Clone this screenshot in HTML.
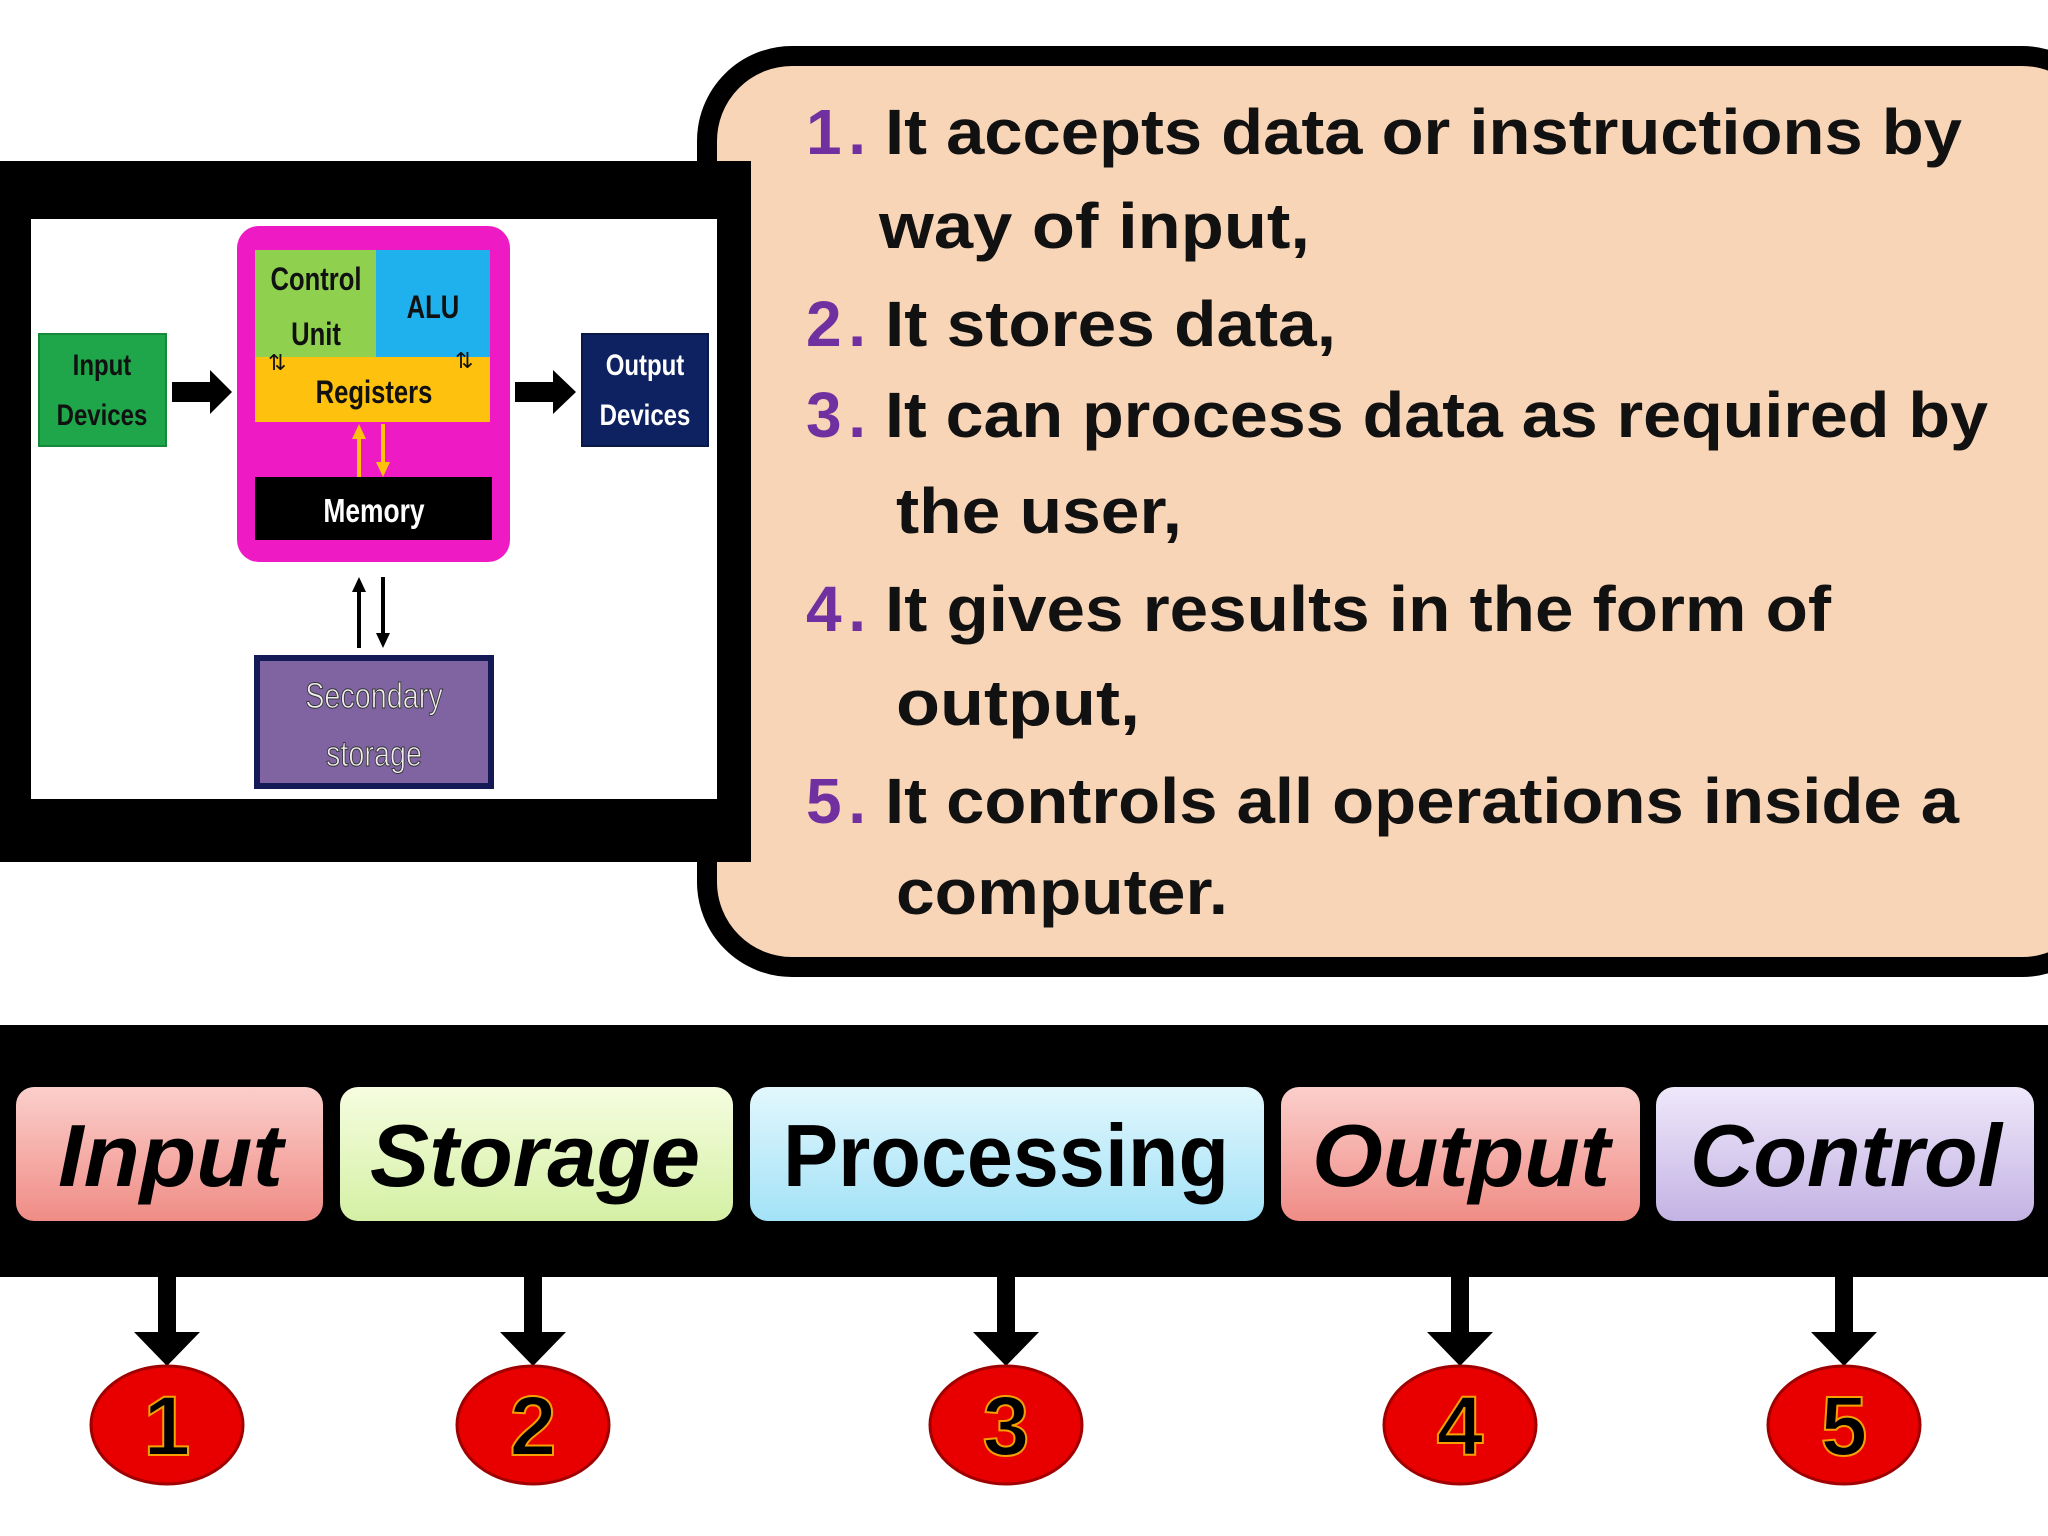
<!DOCTYPE html>
<html><head><meta charset="utf-8"><style>
html,body{margin:0;padding:0;background:#fff;}
svg{display:block;}
</style></head><body>
<svg width="2048" height="1536" viewBox="0 0 2048 1536" xmlns="http://www.w3.org/2000/svg" font-family="'Liberation Sans', sans-serif">
<defs>
<linearGradient id="gp" x1="0" y1="0" x2="0" y2="1"><stop offset="0" stop-color="#fbcfcb"/><stop offset="1" stop-color="#f08c86"/></linearGradient>
<linearGradient id="gg" x1="0" y1="0" x2="0" y2="1"><stop offset="0" stop-color="#f6fde0"/><stop offset="1" stop-color="#d4f0a4"/></linearGradient>
<linearGradient id="gb" x1="0" y1="0" x2="0" y2="1"><stop offset="0" stop-color="#e2f7fd"/><stop offset="1" stop-color="#a3e2f7"/></linearGradient>
<linearGradient id="gv" x1="0" y1="0" x2="0" y2="1"><stop offset="0" stop-color="#efe8fa"/><stop offset="1" stop-color="#c3b3e4"/></linearGradient>
</defs>
<rect x="707" y="56" width="1400" height="911" rx="85" fill="#f9d5b8" stroke="#000" stroke-width="20"/>
<rect x="0" y="161" width="751" height="701" fill="#000"/>
<rect x="31" y="219" width="686" height="580" fill="#fff"/>
<!-- diagram -->
<rect x="39" y="334" width="127" height="112" fill="#1fa64a" stroke="#148a38" stroke-width="2"/>
<g transform="translate(102,0) scale(0.8,1) translate(-102,0)" font-weight="bold" fill="#111">
<text x="102" y="375" font-size="30" text-anchor="middle">Input</text>
<text x="102" y="425" font-size="30" text-anchor="middle">Devices</text></g>
<polygon points="172,382 210,382 210,370 232,392 210,414 210,402 172,402" fill="#000"/>
<rect x="237" y="226" width="273" height="336" rx="22" fill="#ee1bc4"/>
<rect x="255" y="250" width="121" height="107" fill="#8fd14f"/>
<rect x="376" y="250" width="114" height="107" fill="#1fb1ee"/>
<rect x="255" y="357" width="235" height="65" fill="#fec10d"/>
<rect x="255" y="477" width="237" height="63" fill="#000"/>
<g transform="translate(316,0) scale(0.8,1) translate(-316,0)"><text x="316" y="290" font-size="32" text-anchor="middle" fill="#111" font-weight="bold">Control</text>
<text x="316" y="345" font-size="32" text-anchor="middle" fill="#111" font-weight="bold">Unit</text></g>
<text x="433" y="318" font-size="32" text-anchor="middle" fill="#111" font-weight="bold" transform="translate(433,0) scale(0.8,1) translate(-433,0)">ALU</text>
<text x="374" y="403" font-size="32" text-anchor="middle" fill="#111" font-weight="bold" transform="translate(374,0) scale(0.8,1) translate(-374,0)">Registers</text>
<text x="374" y="522" font-size="33" text-anchor="middle" fill="#fff" font-weight="bold" transform="translate(374,0) scale(0.8,1) translate(-374,0)">Memory</text>
<text x="268" y="370" font-size="22" fill="#111">⇅</text>
<text x="455" y="368" font-size="22" fill="#111">⇅</text>
<g stroke="#fec10d" stroke-width="4" fill="#fec10d">
<line x1="359" y1="477" x2="359" y2="437"/><polygon points="352,439 366,439 359,424" stroke="none"/>
<line x1="383" y1="424" x2="383" y2="464"/><polygon points="376,462 390,462 383,477" stroke="none"/>
</g>
<polygon points="515,382 553,382 553,370 576,392 553,414 553,402 515,402" fill="#000"/>
<rect x="582" y="334" width="126" height="112" fill="#0e2160" stroke="#0a1848" stroke-width="2"/>
<g transform="translate(645,0) scale(0.8,1) translate(-645,0)" font-weight="bold" fill="#fff">
<text x="645" y="375" font-size="30" text-anchor="middle">Output</text>
<text x="645" y="425" font-size="30" text-anchor="middle">Devices</text></g>
<g stroke="#000" stroke-width="4">
<line x1="359" y1="648" x2="359" y2="590"/><line x1="383" y1="577" x2="383" y2="635"/>
</g>
<polygon points="352,592 366,592 359,577" fill="#000"/>
<polygon points="376,633 390,633 383,648" fill="#000"/>
<rect x="257" y="658" width="234" height="128" fill="#8064a2" stroke="#141a55" stroke-width="6"/>
<g transform="translate(374,0) scale(0.8,1) translate(-374,0)" fill="#eee" stroke="#333" stroke-width="1">
<text x="374" y="708" font-size="36" text-anchor="middle">Secondary</text>
<text x="374" y="766" font-size="36" text-anchor="middle">storage</text></g>
<!-- text list -->
<g font-size="64" font-weight="bold" fill="#111">
<text x="806" y="154" fill="#7030a0" textLength="60">1.</text>
<text x="885" y="154" textLength="1077" lengthAdjust="spacingAndGlyphs">It accepts data or instructions by</text>
<text x="879" y="248" textLength="431" lengthAdjust="spacingAndGlyphs">way of input,</text>
<text x="806" y="346" fill="#7030a0" textLength="60">2.</text>
<text x="885" y="346" textLength="451" lengthAdjust="spacingAndGlyphs">It stores data,</text>
<text x="806" y="437" fill="#7030a0" textLength="60">3.</text>
<text x="885" y="437" textLength="1103" lengthAdjust="spacingAndGlyphs">It can process data as required by</text>
<text x="896" y="533" textLength="286" lengthAdjust="spacingAndGlyphs">the user,</text>
<text x="806" y="631" fill="#7030a0" textLength="60">4.</text>
<text x="885" y="631" textLength="946" lengthAdjust="spacingAndGlyphs">It gives results in the form of</text>
<text x="896" y="725" textLength="244" lengthAdjust="spacingAndGlyphs">output,</text>
<text x="806" y="823" fill="#7030a0" textLength="60">5.</text>
<text x="885" y="823" textLength="1074" lengthAdjust="spacingAndGlyphs">It controls all operations inside a</text>
<text x="896" y="914" textLength="332" lengthAdjust="spacingAndGlyphs">computer.</text>
</g>
<!-- bottom band -->
<rect x="0" y="1025" width="2048" height="252" fill="#000"/>
<rect x="16" y="1087" width="307" height="134" rx="18" fill="url(#gp)"/>
<rect x="340" y="1087" width="393" height="134" rx="18" fill="url(#gg)"/>
<rect x="750" y="1087" width="514" height="134" rx="18" fill="url(#gb)"/>
<rect x="1281" y="1087" width="359" height="134" rx="18" fill="url(#gp)"/>
<rect x="1656" y="1087" width="378" height="134" rx="18" fill="url(#gv)"/>
<g font-size="88" font-weight="bold" fill="#000">
<text x="58" y="1186" font-style="italic" textLength="225" lengthAdjust="spacingAndGlyphs">Input</text>
<text x="370" y="1186" font-style="italic" textLength="330" lengthAdjust="spacingAndGlyphs">Storage</text>
<text x="783" y="1186" textLength="446" lengthAdjust="spacingAndGlyphs">Processing</text>
<text x="1312" y="1186" font-style="italic" textLength="298" lengthAdjust="spacingAndGlyphs">Output</text>
<text x="1690" y="1186" font-style="italic" textLength="312" lengthAdjust="spacingAndGlyphs">Control</text>
</g>
<g fill="#000">
<rect x="158" y="1277" width="18" height="56"/><polygon points="134,1332 200,1332 167,1366"/>
<rect x="524" y="1277" width="18" height="56"/><polygon points="500,1332 566,1332 533,1366"/>
<rect x="997" y="1277" width="18" height="56"/><polygon points="973,1332 1039,1332 1006,1366"/>
<rect x="1451" y="1277" width="18" height="56"/><polygon points="1427,1332 1493,1332 1460,1366"/>
<rect x="1835" y="1277" width="18" height="56"/><polygon points="1811,1332 1877,1332 1844,1366"/>
</g>
<g fill="#e80000" stroke="#a00000" stroke-width="3">
<ellipse cx="167" cy="1425" rx="76" ry="59"/>
<ellipse cx="533" cy="1425" rx="76" ry="59"/>
<ellipse cx="1006" cy="1425" rx="76" ry="59"/>
<ellipse cx="1460" cy="1425" rx="76" ry="59"/>
<ellipse cx="1844" cy="1425" rx="76" ry="59"/>
</g>
<g font-size="84" font-weight="bold" fill="#000" stroke="#f5a000" stroke-width="2" text-anchor="middle">
<text x="167" y="1455">1</text><text x="533" y="1455">2</text><text x="1006" y="1455">3</text><text x="1460" y="1455">4</text><text x="1844" y="1455">5</text>
</g>
</svg>
</body></html>
